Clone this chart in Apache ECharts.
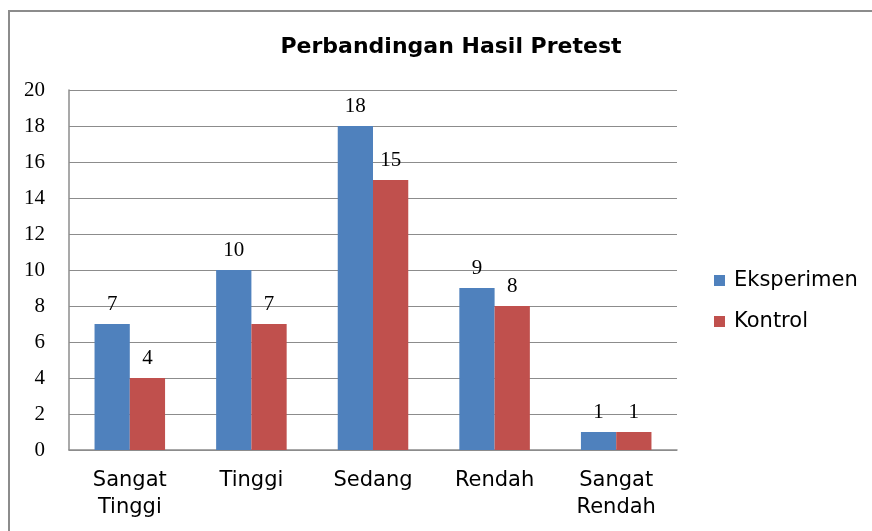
<!DOCTYPE html>
<html>
<head>
<meta charset="utf-8">
<script src="https://cdn.jsdelivr.net/npm/echarts@6/dist/echarts.min.js"></script>
<style>
  html, body { margin: 0; padding: 0; background: #fff; }
  #frame { position: absolute; left: 8px; top: 10px; width: 880px; height: 540px; border: 2px solid #8c8c8c; box-sizing: border-box; }
  #chart { width: 872px; height: 531px; position: absolute; left: 0; top: 0; }
</style>
</head>
<body>
<div id="frame"></div>
<div id="chart"></div>
<script>
// data
const categories = ['Sangat\nTinggi', 'Tinggi', 'Sedang', 'Rendah', 'Sangat\nRendah']
const eksperimen = [7, 10, 18, 9, 1]
const kontrol = [4, 7, 15, 8, 1]

const chart = echarts.init(document.getElementById('chart'))
const sans = 'DejaVu Sans, Arial, sans-serif'
const serif = 'Liberation Serif, Times New Roman, serif'
const labelStyle = {
  show: true,
  position: 'top',
  distance: 9,
  fontFamily: serif,
  fontSize: 21,
  color: '#000'
}
chart.setOption({
  animation: false,
  title: {
    text: 'Perbandingan Hasil Pretest',
    left: 446,
    textAlign: 'center',
    top: 31,
    textStyle: { fontFamily: sans, fontSize: 22, fontWeight: 'bold', color: '#000' }
  },
  legend: {
    orient: 'vertical',
    left: 709,
    top: 265,
    itemWidth: 11,
    itemHeight: 11,
    itemGap: 20,
    icon: 'rect',
    textStyle: { fontFamily: sans, fontSize: 21, color: '#000', padding: [0, 0, 0, 4] }
  },
  grid: { left: 69, right: 195, top: 90, bottom: 81 },
  xAxis: {
    type: 'category',
    data: categories,
    axisLine: { lineStyle: { color: '#8c8c8c', width: 1.5 } },
    axisTick: { show: false },
    axisLabel: {
      margin: 17,
      lineHeight: 27,
      fontFamily: sans,
      fontSize: 21,
      color: '#000'
    }
  },
  yAxis: {
    type: 'value',
    min: 0,
    max: 20,
    interval: 2,
    axisLine: { show: true, lineStyle: { color: '#8c8c8c', width: 1.5 } },
    axisTick: { show: false },
    splitLine: { lineStyle: { color: '#8c8c8c', width: 1 } },
    axisLabel: {
      margin: 24,
      fontFamily: serif,
      fontSize: 21,
      color: '#000'
    }
  },
  series: [
    {
      name: 'Eksperimen',
      type: 'bar',
      data: eksperimen,
      barGap: '0%',
      barCategoryGap: '42%',
      itemStyle: { color: '#4F81BD' },
      label: labelStyle
    },
    {
      name: 'Kontrol',
      type: 'bar',
      data: kontrol,
      itemStyle: { color: '#C0504D' },
      label: labelStyle
    }
  ]
})
</script>
</body>
</html>
